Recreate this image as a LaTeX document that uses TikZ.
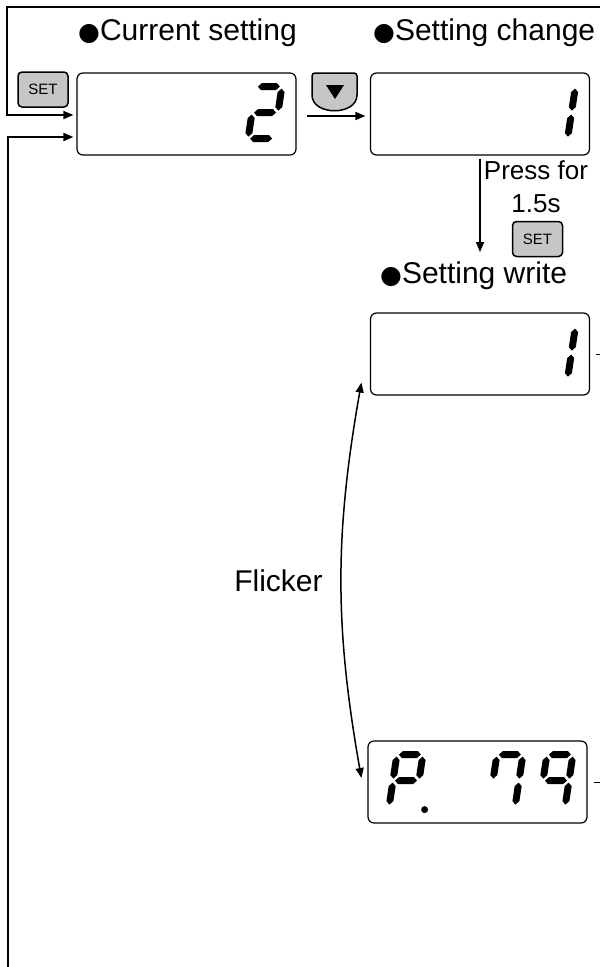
\documentclass[tikz,border=0pt]{standalone}
\usepackage{fontspec}
\setmainfont{Liberation Sans}
\newfontfamily\bulletfont{DejaVu Sans}
\usepackage{tikz}
\usetikzlibrary{arrows.meta,calc}
\definecolor{keygray}{RGB}{198,198,198}

\newcommand{\lcda}{\fill (2,52) -- (5.5,55.5) -- (20.5,55.5) -- (24,52) -- (20.5,48.5) -- (5.5,48.5) -- cycle;}
\newcommand{\lcdg}{\fill (2,26) -- (5.5,29.5) -- (20.5,29.5) -- (24,26) -- (20.5,22.5) -- (5.5,22.5) -- cycle;}
\newcommand{\lcdd}{\fill (2,0) -- (5.5,3.5) -- (20.5,3.5) -- (24,0) -- (20.5,-3.5) -- (5.5,-3.5) -- cycle;}
\newcommand{\lcdf}{\fill (0,28) -- (3.5,31.5) -- (3.5,46.5) -- (0,50) -- (-3.5,46.5) -- (-3.5,31.5) -- cycle;}
\newcommand{\lcdb}{\fill (26,28) -- (29.5,31.5) -- (29.5,46.5) -- (26,50) -- (22.5,46.5) -- (22.5,31.5) -- cycle;}
\newcommand{\lcde}{\fill (0,2) -- (3.5,5.5) -- (3.5,20.5) -- (0,24) -- (-3.5,20.5) -- (-3.5,5.5) -- cycle;}
\newcommand{\lcdc}{\fill (26,2) -- (29.5,5.5) -- (29.5,20.5) -- (26,24) -- (22.5,20.5) -- (22.5,5.5) -- cycle;}

\newcommand{\sevseg}[2]{%
\begin{scope}[shift={#1},xslant=0.15,y=1pt]
\foreach \s in {#2} {\csname lcd\s\endcsname}
\end{scope}}

\newcommand{\blt}{{\bulletfont\fontsize{25}{30}\selectfont ●}}

\begin{document}
\begin{tikzpicture}[
x=1pt,y=-1pt,
disp/.style={
draw,
rounded corners=6pt,
minimum width=219pt,
minimum height=82pt,
line width=1.2pt
},
key/.style={
draw,
fill=keygray,
rounded corners=4pt,
line width=1.5pt,
minimum width=50pt,
minimum height=35pt,
inner sep=0pt,
font=\fontsize{15}{17}\selectfont
},
title/.style={
inner sep=0pt,
font=\fontsize{30}{36}\selectfont
},
note/.style={
inner sep=0pt,
align=center,
font=\fontsize{26}{33}\selectfont
},
flow/.style={
-{Triangle[length=10pt,width=8pt]},
line width=1.5pt
},
both/.style={
{Triangle[length=10pt,width=8pt]}-{Triangle[length=10pt,width=8pt]},
line width=1.5pt
},
stub/.style={
line width=1pt
}
]

\useasboundingbox (0,0) rectangle (600,967);

\node[title,anchor=base west] (tcur) at (78,40) {\blt Current setting};
\node[title,anchor=base west] (tchg) at (373,40) {\blt Setting change};

\node[disp] (curbox) at (186.5,114) {};
\node[disp] (chgbox) at (480,114) {};
\node[disp] (wrtbox) at (480,354) {};
\node[disp] (blinkbox) at (477.5,782) {};

\node[key] (setA) at (43,89.5) {SET};
\node[key] (setB) at (537.5,239) {SET};

\draw[line width=1.5pt,fill=keygray,rounded corners=3pt]
(334.5,73) -- (312,73) -- (312,92) .. controls (312,116) and (357,116) .. (357,92) -- (357,73) -- cycle;
\fill (326,85) -- (344,85) -- (335,99) -- cycle;

\node[note,anchor=north] (press) at (536,160) {Press for\\1.5s};
\node[title,anchor=base west] (twrt) at (380,283) {\blt Setting write};
\node[title,anchor=base] (flicker) at (278.5,591) {Flicker};

\sevseg{($(curbox.south east)+(-48.5,-17)$)}{a,b,g,e,d}
\sevseg{($(chgbox.south east)+(-48.5,-17)$)}{b,c}
\sevseg{($(wrtbox.south east)+(-48.5,-17)$)}{b,c}
\sevseg{($(blinkbox.south east)+(-48.5,-17)$)}{a,b,c,f,g}
\sevseg{($(blinkbox.south east)+(-98.5,-17)$)}{a,b,c,f}
\sevseg{($(blinkbox.south east)+(-198.5,-17)$)}{a,b,e,f,g}
\fill ($(blinkbox.south east)+(-163,-14)$) circle (3.5);

\coordinate (backtop) at (600,7);
\coordinate (backbot) at (8,967);
\coordinate (wrtout) at (600,354);
\coordinate (blinkout) at (600,782);

\draw[flow,line width=1.8pt,shorten >=3pt]
(backtop) -- (7,7) |- ($(curbox.west)+(0,1)$);

\draw[flow,line width=1.8pt,shorten >=3pt]
(backbot) |- ($(curbox.west)+(0,23)$);

\draw[flow,shorten <=10pt,shorten >=4.5pt]
($(curbox.east)+(0,2)$) -- ($(chgbox.west)+(0,2)$);

\draw[flow,shorten <=3pt,shorten >=9pt]
(chgbox.south) -- (chgbox.south |- twrt.north);

\draw[both]
($(wrtbox.south west)+(-8.5,-13)$) to[bend right=10] ($(blinkbox.west)+(-6,-4)$);

\draw[stub,shorten <=6pt] (wrtbox.east) -- (wrtout);

\draw[stub,shorten <=6pt] (blinkbox.east) -- (blinkout);

\end{tikzpicture}
\end{document}
